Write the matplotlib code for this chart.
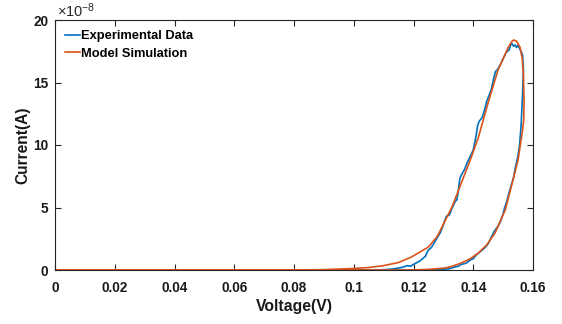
import matplotlib
matplotlib.use("Agg")
import matplotlib.pyplot as plt
from matplotlib.transforms import offset_copy

# Experimental data (voltage V, current in 1e-8 A)
exp_v = [0.0, 0.100, 0.110, 0.113, 0.116, 0.118, 0.119, 0.120, 0.122, 0.123, 0.124, 0.1245,
         0.125, 0.126, 0.127, 0.128, 0.129, 0.130, 0.131, 0.132, 0.133, 0.134, 0.1345,
         0.135, 0.1355, 0.136, 0.137, 0.138, 0.139, 0.140, 0.1405, 0.141, 0.1415, 0.142,
         0.143, 0.144, 0.1445, 0.145, 0.146, 0.147, 0.1475, 0.148, 0.149, 0.150, 0.151,
         0.152, 0.1525, 0.153, 0.1535, 0.154, 0.1545, 0.155, 0.1555, 0.156, 0.1565,
         0.1568, 0.1565, 0.156, 0.1555, 0.155, 0.1545, 0.154, 0.1535, 0.153, 0.152,
         0.151, 0.1505, 0.150, 0.149, 0.148, 0.147, 0.146, 0.145, 0.144, 0.143, 0.142,
         0.141, 0.140, 0.139, 0.138, 0.137, 0.136, 0.135, 0.134, 0.132, 0.130, 0.125, 0.0]
exp_i = [0.0, 0.0, 0.02, 0.08, 0.2, 0.35, 0.3, 0.45, 0.7, 0.9, 1.1, 1.4,
         1.6, 1.8, 2.2, 2.6, 3.0, 3.6, 4.3, 4.4, 5.0, 5.5, 5.6,
         6.3, 7.3, 7.6, 8.0, 8.6, 9.1, 9.6, 10.2, 10.8, 11.6, 11.9,
         12.2, 13.0, 13.5, 13.8, 14.4, 15.5, 15.9, 16.0, 16.4, 16.9, 17.4,
         17.6, 18.0, 18.1, 17.9, 18.0, 17.8, 18.0, 17.7, 17.5, 17.2,
         16.0, 14.0, 11.5, 10.0, 9.2, 8.6, 8.1, 7.4, 7.0, 6.2,
         5.3, 5.0, 4.5, 3.8, 3.4, 3.1, 2.6, 2.1, 1.8, 1.6, 1.4,
         1.2, 0.9, 0.8, 0.6, 0.5, 0.45, 0.3, 0.25, 0.1, 0.05, 0.0, 0.0]

# Model simulation
mod_v = [0.0, 0.08, 0.09, 0.100, 0.105, 0.110, 0.115, 0.1193, 0.125, 0.128, 0.1307,
         0.133, 0.136, 0.139, 0.1417, 0.145, 0.1483, 0.150, 0.1517, 0.1528, 0.1535,
         0.1545, 0.1557, 0.1564, 0.1568, 0.1570, 0.1569, 0.1565, 0.156, 0.155, 0.1527,
         0.1507, 0.1473, 0.1445, 0.1417, 0.139, 0.136, 0.133, 0.1307, 0.125, 0.1193,
         0.11, 0.0]
mod_i = [0.0, 0.0, 0.03, 0.12, 0.2, 0.35, 0.6, 1.04, 1.84, 2.7, 4.0,
         5.1, 6.96, 8.8, 10.6, 13.4, 16.0, 16.9, 17.8, 18.25, 18.4,
         18.3, 17.8, 16.9, 15.6, 13.4, 12.0, 11.2, 10.4, 8.8, 6.64,
         4.8, 2.96, 2.0, 1.36, 0.9, 0.56, 0.3, 0.16, 0.05, 0.0,
         0.0, 0.0]

xticks = [0, 0.02, 0.04, 0.06, 0.08, 0.1, 0.12, 0.14, 0.16]
xticklabels = ["0", "0.02", "0.04", "0.06", "0.08", "0.1", "0.12", "0.14", "0.16"]
yticks = [0, 5, 10, 15, 20]

plt.rcParams['font.family'] = ['Liberation Sans', 'DejaVu Sans']
plt.rcParams['mathtext.fontset'] = 'custom'
plt.rcParams['mathtext.rm'] = 'Liberation Sans'
plt.rcParams['mathtext.it'] = 'Liberation Sans'

fig = plt.figure(figsize=(5.62, 3.24), dpi=100)
ax = fig.add_axes([55/562, 54/324, 478/562, 250/324])

ax.plot(exp_v, exp_i, color='#0072BD', lw=1.2, label='Experimental Data')
ax.plot(mod_v, mod_i, color='#D95319', lw=1.2, label='Model Simulation')

ax.set_xlim(0, 0.16)
ax.set_ylim(0, 20)
ax.set_xticks(xticks)
ax.set_xticklabels(xticklabels)
ax.set_yticks(yticks)
ax.tick_params(direction='in', top=True, right=True, length=4, width=0.8,
               labelsize=9.8, colors='#262626')
ax.tick_params(axis='x', pad=8)
ax.tick_params(axis='y', pad=5)
for lab in ax.get_xticklabels() + ax.get_yticklabels():
    lab.set_fontweight('bold')
    lab.set_color('#1a1a1a')
for s in ax.spines.values():
    s.set_color('#262626')
    s.set_linewidth(0.8)

ax.set_xlabel('Voltage(V)', fontsize=11.3, fontweight='bold', labelpad=3, color='#1a1a1a')
ax.set_ylabel('Current(A)', fontsize=11.2, fontweight='bold', labelpad=2, color='#1a1a1a')

tr = offset_copy(ax.transAxes, fig=fig, x=2, y=3, units='dots')
ax.text(0.0, 1.0, r'$\times10^{-8}$', transform=tr, fontsize=10.5,
        ha='left', va='baseline', color='#262626')

leg = ax.legend(loc='upper left', frameon=False, handlelength=1.1, handletextpad=0.1,
                borderaxespad=0.4, labelspacing=0.42,
                prop={'weight': 'bold', 'size': 9.3})

fig.savefig('out.png', dpi=100)
